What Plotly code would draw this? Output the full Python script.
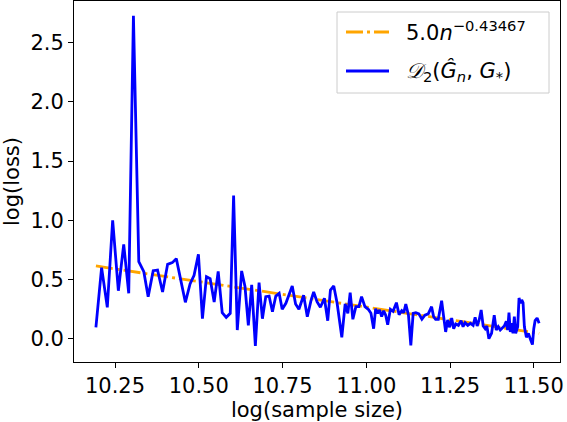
import plotly.graph_objects as go

# log(sample size) and log(loss)
log_n = [10.193, 10.210, 10.227, 10.243, 10.260, 10.276, 10.291, 10.305, 10.321, 10.336,
         10.349, 10.364, 10.377, 10.392, 10.407, 10.421, 10.433, 10.447, 10.460, 10.474,
         10.486, 10.499, 10.511, 10.523, 10.534, 10.546, 10.558, 10.570, 10.582, 10.594,
         10.604, 10.615, 10.628, 10.638, 10.648, 10.658, 10.669, 10.680, 10.690, 10.700,
         10.710, 10.720, 10.730, 10.740, 10.749, 10.760, 10.769, 10.779, 10.789, 10.799,
         10.813, 10.824, 10.835, 10.843, 10.853, 10.863, 10.875,
         10.885, 10.893, 10.903, 10.913, 10.927, 10.937, 10.945, 10.952, 10.960, 10.969,
         10.978, 10.986, 10.996, 11.006, 11.014, 11.022, 11.028, 11.034, 11.040, 11.046,
         11.052, 11.058, 11.064, 11.072, 11.080, 11.090, 11.098, 11.106, 11.112, 11.118,
         11.126, 11.133, 11.140, 11.148, 11.157, 11.166, 11.175, 11.185, 11.195, 11.201,
         11.207, 11.215, 11.225, 11.231, 11.237, 11.243, 11.249, 11.255, 11.261, 11.267,
         11.275, 11.283, 11.289, 11.295, 11.303, 11.311, 11.319, 11.325, 11.331, 11.337,
         11.343, 11.349, 11.355, 11.360, 11.366, 11.374, 11.382, 11.388, 11.394, 11.400,
         11.406, 11.412, 11.418, 11.422, 11.426, 11.430, 11.434, 11.438, 11.442, 11.446,
         11.452, 11.456, 11.460, 11.464, 11.468, 11.472, 11.478, 11.484, 11.490, 11.496,
         11.500, 11.504, 11.510, 11.516]
log_loss = [0.096, 0.600, 0.265, 1.000, 0.405, 0.797, 0.383, 2.728, 0.650, 0.566,
            0.355, 0.574, 0.580, 0.394, 0.628, 0.642, 0.676, 0.480, 0.307, 0.462,
            0.535, 0.713, 0.169, 0.524, 0.507, 0.310, 0.569, 0.220, 0.180, 0.214,
            1.208, 0.073, 0.572, 0.440, 0.113, 0.454, -0.062, 0.473, 0.169, 0.355,
            0.360, 0.228, 0.360, 0.383, 0.248, 0.299, 0.367, 0.445, 0.293, 0.248,
            0.367, 0.186, 0.321, 0.394, 0.313, 0.265, 0.341,
            0.152, 0.411, 0.445, 0.299, 0.012, 0.293, 0.214, 0.389, 0.164, 0.270,
            0.270, 0.355, 0.270, 0.248, 0.214, 0.084, 0.253, 0.214, 0.242, 0.186,
            0.236, 0.198, 0.118, 0.248, 0.231, 0.304, 0.203, 0.236, 0.220, 0.293,
            0.198, -0.056, 0.214, 0.220, 0.209, 0.164, 0.198, 0.209, 0.270, 0.186,
            0.164, 0.164, 0.321, 0.186, 0.057, 0.158, 0.096, 0.175, 0.084, 0.124,
            0.113, 0.152, 0.101, 0.135, 0.113, 0.130, 0.113, 0.181, 0.107, 0.158,
            0.242, 0.107, 0.084, 0.107, 0.000, 0.045, 0.198, 0.073, 0.101, 0.073,
            0.090, 0.107, 0.147, 0.073, 0.220, 0.057, 0.130, 0.045, 0.186, 0.045,
            0.101, 0.344, 0.299, 0.327, 0.304, 0.101, 0.012, 0.045, -0.005, -0.050,
            0.084, 0.152, 0.175, 0.130]

# fitted rate line (straight in these coordinates): end points
fit_x = [10.193, 11.516]
fit_y = [0.614, 0.045]

x_ticks = [10.25, 10.50, 10.75, 11.00, 11.25, 11.50]
y_ticks = [0.0, 0.5, 1.0, 1.5, 2.0, 2.5]

legend_labels = ["5.0<i>n</i><sup>\u22120.43467</sup>",
                 "<i>\U0001D49F</i><sub>2</sub>(<i>\u011C</i><sub><i>n</i></sub>, <i>G</i><sub>*</sub>)"]

W, H = 567, 422
L, R, T, B = 74, 7, 1, 60
PW, PH = W - L - R, H - T - B

def px(x):
    return (x - L) / PW

def py(y):
    return (H - B - y) / PH

FONT = "DejaVu Sans"
ORANGE = "#ffa500"
BLUE = "#0000ff"

fig = go.Figure()
fig.add_trace(go.Scatter(x=fit_x, y=fit_y, mode="lines",
                         line=dict(color=ORANGE, width=2.8, dash="17px,4px,3px,4px"),
                         showlegend=False))
fig.add_trace(go.Scatter(x=log_n, y=log_loss, mode="lines",
                         line=dict(color=BLUE, width=2.8),
                         showlegend=False))

# legend drawn by hand (matplotlib style)
shapes = [
    dict(type="rect", xref="paper", yref="paper",
         x0=px(337), x1=px(549), y0=py(93), y1=py(12),
         line=dict(color="#cccccc", width=1), fillcolor="rgba(255,255,255,0.8)", layer="above"),
    dict(type="line", xref="paper", yref="paper",
         x0=px(346), x1=px(389), y0=py(32), y1=py(32),
         line=dict(color=ORANGE, width=2.8, dash="17px,4px,3px,4px"), layer="above"),
    dict(type="line", xref="paper", yref="paper",
         x0=px(346), x1=px(389), y0=py(71), y1=py(71),
         line=dict(color=BLUE, width=2.8), layer="above"),
]
annotations = [
    dict(xref="paper", yref="paper", x=px(404), y=py(31), text=legend_labels[0],
         showarrow=False, xanchor="left", yanchor="middle",
         font=dict(family=FONT, size=21, color="black")),
    dict(xref="paper", yref="paper", x=px(404), y=py(71), text=legend_labels[1],
         showarrow=False, xanchor="left", yanchor="middle",
         font=dict(family=FONT, size=21, color="black")),
]

fig.update_layout(
    width=W, height=H,
    margin=dict(l=L, r=R, t=T, b=B, pad=0),
    paper_bgcolor="white", plot_bgcolor="white",
    font=dict(family=FONT, size=21, color="black"),
    shapes=shapes, annotations=annotations,
    showlegend=False,
)
fig.update_xaxes(range=[10.1276, 11.5783], tickvals=x_ticks, tickformat=".2f",
                 showline=True, mirror=True, linecolor="black", linewidth=1,
                 ticks="outside", ticklen=5, tickwidth=1, tickcolor="black",
                 showgrid=False, zeroline=False,
                 title=dict(text="log(sample size)", standoff=4, font=dict(size=21)))
fig.update_yaxes(range=[-0.197, 2.852], tickvals=y_ticks, tickformat=".1f",
                 showline=True, mirror=True, linecolor="black", linewidth=1,
                 ticks="outside", ticklen=5, tickwidth=1, tickcolor="black",
                 showgrid=False, zeroline=False,
                 title=dict(text="log(loss)", standoff=8, font=dict(size=21)))

fig.write_html("out.html")
